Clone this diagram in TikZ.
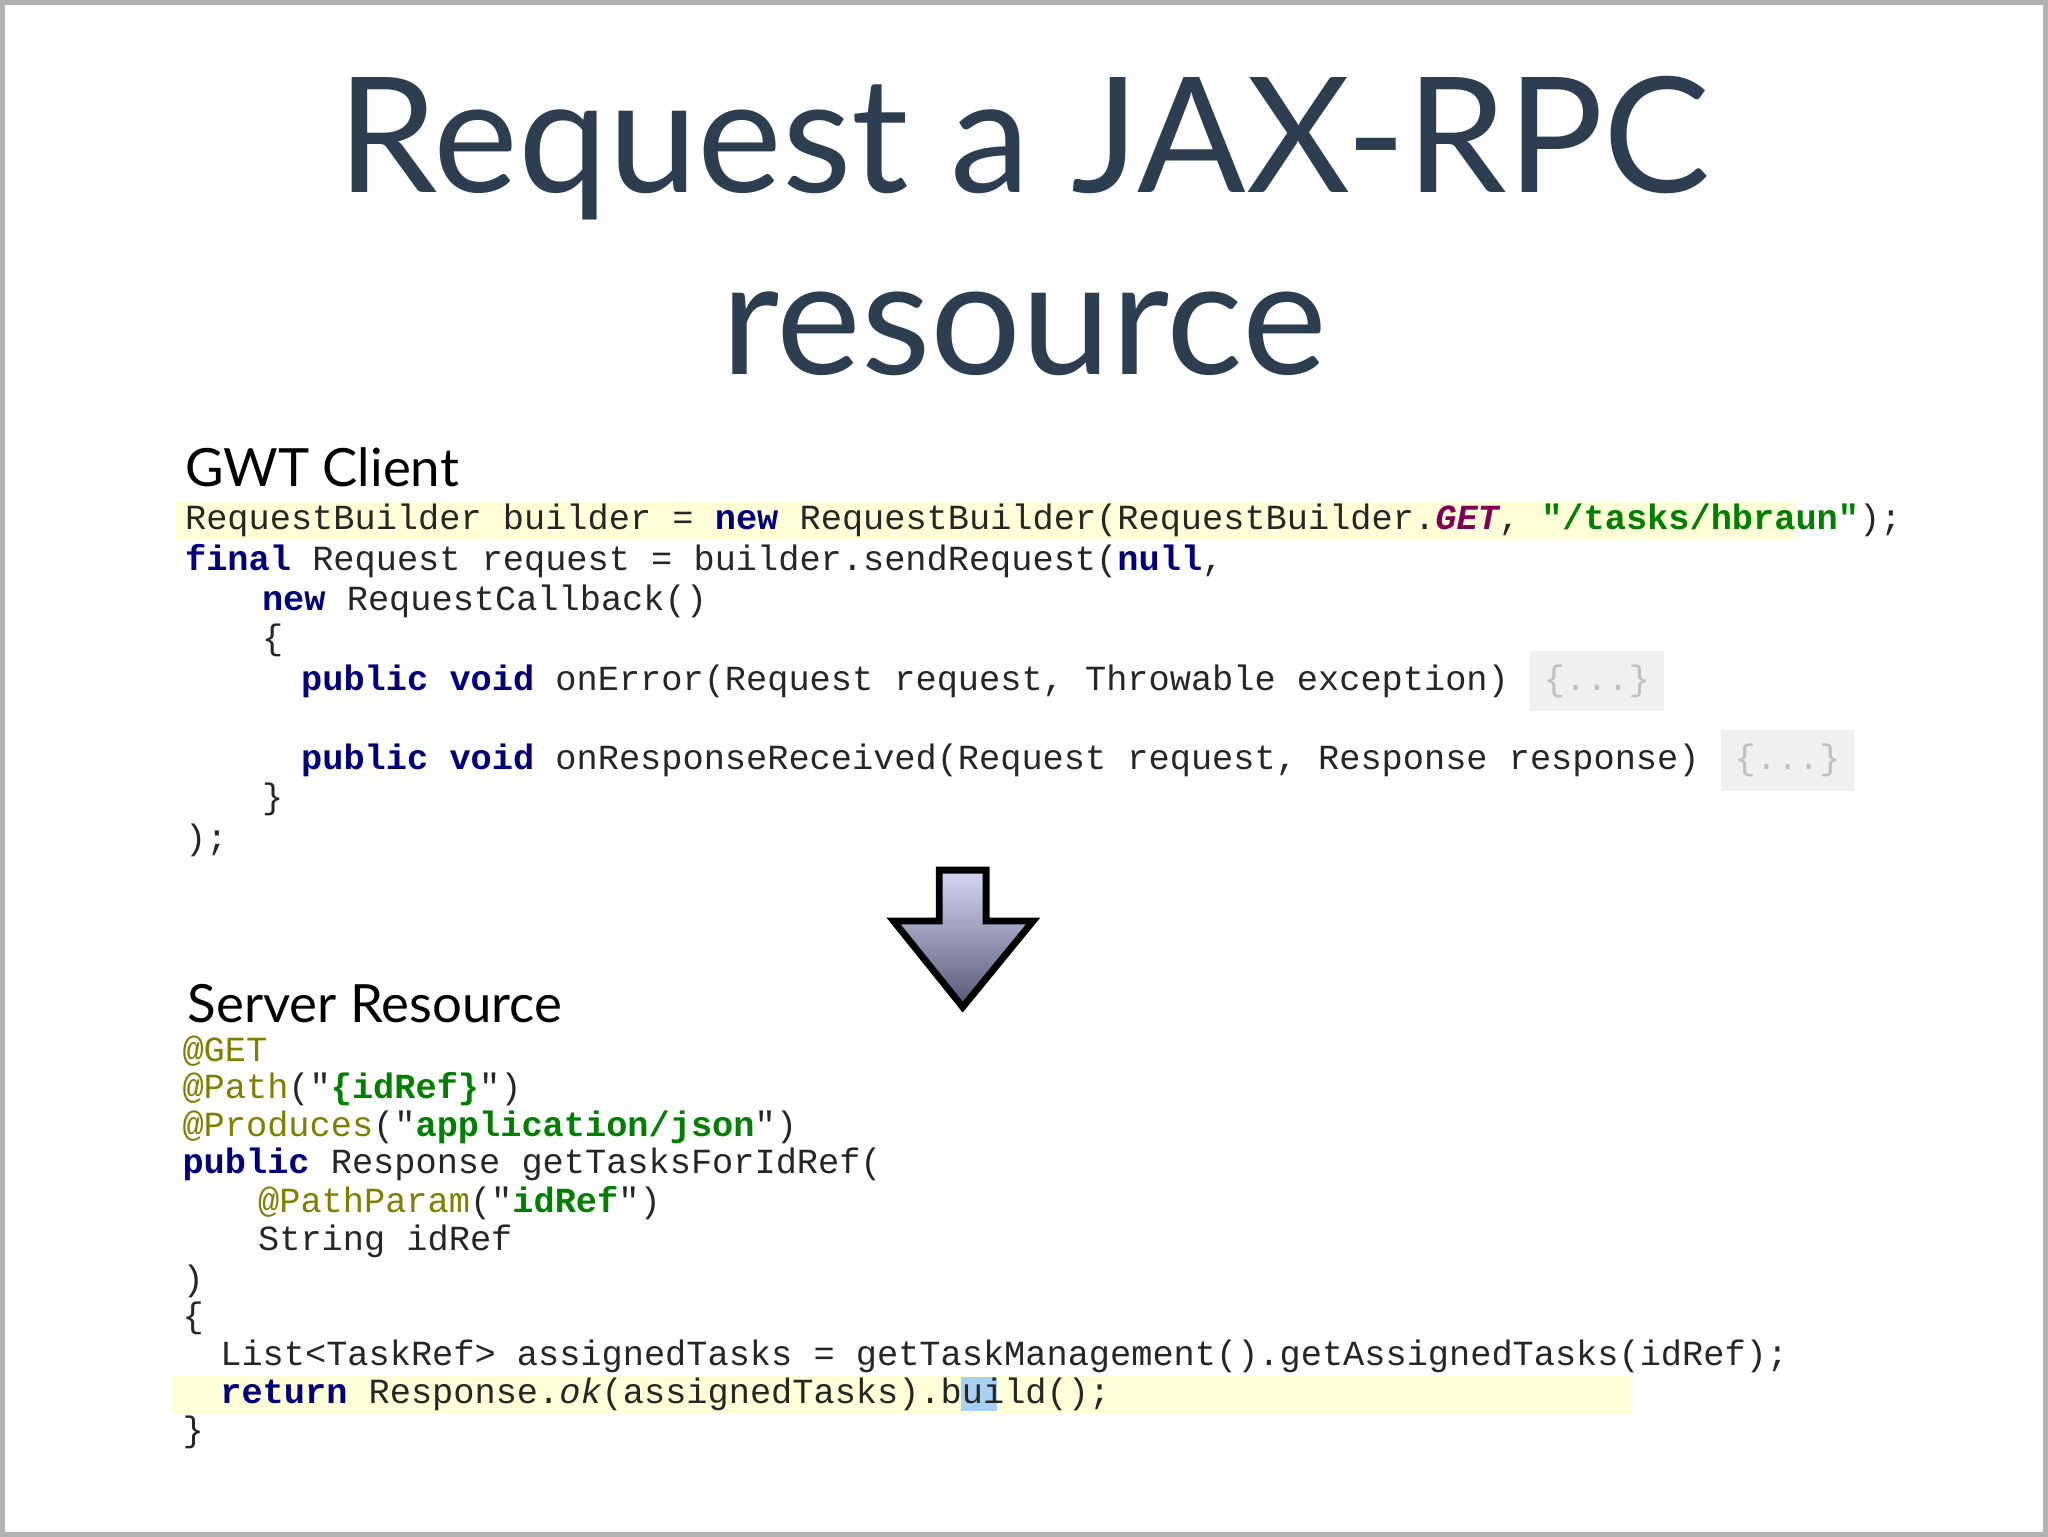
\documentclass[tikz,border=0pt]{standalone}
\usepackage{fontspec}
\setmainfont{Lato}
\setmonofont{Liberation Mono}
\definecolor{titlec}{HTML}{2C3E50}
\definecolor{kwc}{HTML}{00007F}
\definecolor{stc}{HTML}{007F00}
\definecolor{anc}{HTML}{808000}
\definecolor{gtc}{HTML}{7F0055}
\definecolor{hly}{HTML}{FFFFD8}
\definecolor{hlb}{HTML}{A8D0F0}
\newcommand{\kw}[1]{\textbf{\color{kwc}#1}}
\newcommand{\strg}[1]{\textbf{\color{stc}#1}}
\newcommand{\anno}[1]{{\color{anc}#1}}
\newcommand{\elps}{{\color{gray!50}\colorbox{gray!12}{\{...\}}}}
\begin{document}
\begin{tikzpicture}[x=0.01cm,y=-0.01cm,
  code/.style={anchor=west,inner sep=0pt,font=\ttfamily\fontsize{7.7}{9}\selectfont,text=black!85},
  head/.style={anchor=west,inner sep=0pt,font=\fontsize{11.5}{13}\selectfont},
  ttl/.style={inner sep=0pt,font=\fontsize{35}{40}\selectfont,text=titlec}]
\fill[white] (0,0) rectangle (1568,1176);
\draw[gray!60,line width=1pt] (0.5,0.5) rectangle (1567.5,1175.5);
\node[ttl] (t1) at (784,112) {Request a JAX-RPC};
\node[ttl] (t2) at (784,255) {resource};
\node[head] (h1) at (140,357) {GWT Client};
\node[head] (h2) at (142,768) {Server Resource};
\fill[hly] (133,384) rectangle (1376,412);
\fill[hly] (130,1054) rectangle (1250,1082);
\fill[hlb] (736,1055) rectangle (763,1081);
\node[code] (c1) at (140,398) {RequestBuilder builder = \kw{new} RequestBuilder(RequestBuilder.\textbf{\textit{\color{gtc}GET}}, \strg{"/tasks/hbraun"});};
\node[code] (c2) at (140,429) {\kw{final} Request request = builder.sendRequest(\kw{null},};
\node[code] (c3) at (199,460) {\kw{new} RequestCallback()};
\node[code] (c4) at (199,490) {\{};
\node[code] (c5) at (229,521) {\kw{public} \kw{void} onError(Request request, Throwable exception) \elps};
\node[code] (c6) at (229,582) {\kw{public} \kw{void} onResponseReceived(Request request, Response response) \elps};
\node[code] (c7) at (199,612) {\}};
\node[code] (c8) at (140,643) {);};
\node[code] (s1) at (138,805) {\anno{@GET}};
\node[code] (s2) at (138,834) {\anno{@Path}("\strg{\{idRef\}}")};
\node[code] (s3) at (138,863) {\anno{@Produces}("\strg{application/json}")};
\node[code] (s4) at (138,892) {\kw{public} Response getTasksForIdRef(};
\node[code] (s5) at (196,921) {\anno{@PathParam}("\strg{idRef}")};
\node[code] (s6) at (196,951) {String idRef};
\node[code] (s7) at (138,981) {)};
\node[code] (s8) at (138,1010) {\{};
\node[code] (s9) at (167,1039) {List<TaskRef> assignedTasks = getTaskManagement().getAssignedTasks(idRef);};
\node[code] (s10) at (167,1068) {\kw{return} Response.\textit{ok}(assignedTasks).build();};
\node[code] (s11) at (138,1097) {\}};
\shade[top color=gray!40!blue!20,bottom color=gray!70!blue!50!black!80,draw=black,line width=1.5pt]
  (719,666) -- (755,666) -- (755,705) -- (791,705) -- (737,771) -- (684,705) -- (719,705) -- cycle;
\end{tikzpicture}
\end{document}
